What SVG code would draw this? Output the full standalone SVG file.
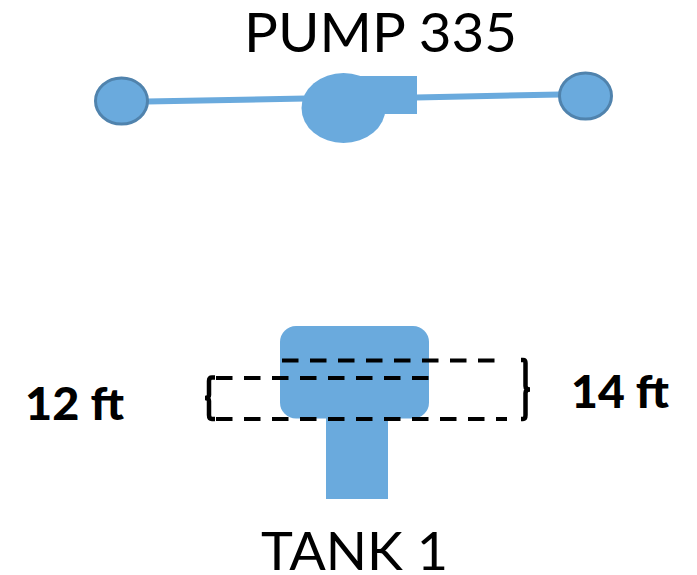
<svg xmlns="http://www.w3.org/2000/svg" width="697" height="575" viewBox="0 0 697 575">
<style>
.f{fill:#6aaadd}
.v{fill:#6aaadd;stroke:#5083ad;stroke-width:3}
.p{stroke:#6aaadd;stroke-width:6;fill:none}
.d{stroke:#000;stroke-width:4;fill:none;stroke-dasharray:16.5 11.5}
.b{stroke:#000;stroke-width:4.500;fill:none}
.t{font-family:"Lato","Noto Sans","Liberation Sans",sans-serif;fill:#000}
</style>
<rect width="697" height="575" fill="#fff"/>
<g id="connectors">
<path class="p" d="M147 101.500L306 98.500"/>
<path class="p" d="M416 97.500L560 94.500"/>
</g>
<g id="valve-left"><ellipse class="v" cx="121.500" cy="101" rx="26" ry="23"/></g>
<g id="valve-right"><ellipse class="v" cx="585.500" cy="96" rx="26" ry="23"/></g>
<g id="pump">
<ellipse class="f" cx="343.500" cy="108" rx="42" ry="35"/>
<rect class="f" x="350" y="76" width="67" height="38"/>
<text class="t" x="244" y="52" font-size="54" textLength="273" lengthAdjust="spacingAndGlyphs">PUMP 335</text>
</g>
<g id="tank">
<rect class="f" x="280" y="326" width="149" height="92.500" rx="16"/>
<rect class="f" x="326" y="418" width="62" height="81"/>
<text class="t" x="261" y="570" font-size="53" textLength="187" lengthAdjust="spacingAndGlyphs">TANK 1</text>
</g>
<g id="level-12">
<path class="d" d="M216 378H429"/>
<path class="d" d="M216 419H507"/>
<path class="b" d="M215 377.500H212Q209 377.500 209 381V395Q209 398 205 398Q209 398 209 401V415Q209 419 212 419H215"/>
<text class="t" x="25" y="420" font-size="46" font-weight="900" textLength="99" lengthAdjust="spacingAndGlyphs">12 ft</text>
</g>
<g id="level-14">
<path class="d" d="M282 360.500H495"/>
<path class="b" d="M521 360H523Q525.500 360 525.500 363V386Q525.500 389.500 530 389.500Q525.500 389.500 525.500 393V415Q525.500 419 523 419H521"/>
<text class="t" x="571" y="408" font-size="46" font-weight="900" textLength="98" lengthAdjust="spacingAndGlyphs">14 ft</text>
</g>
</svg>
